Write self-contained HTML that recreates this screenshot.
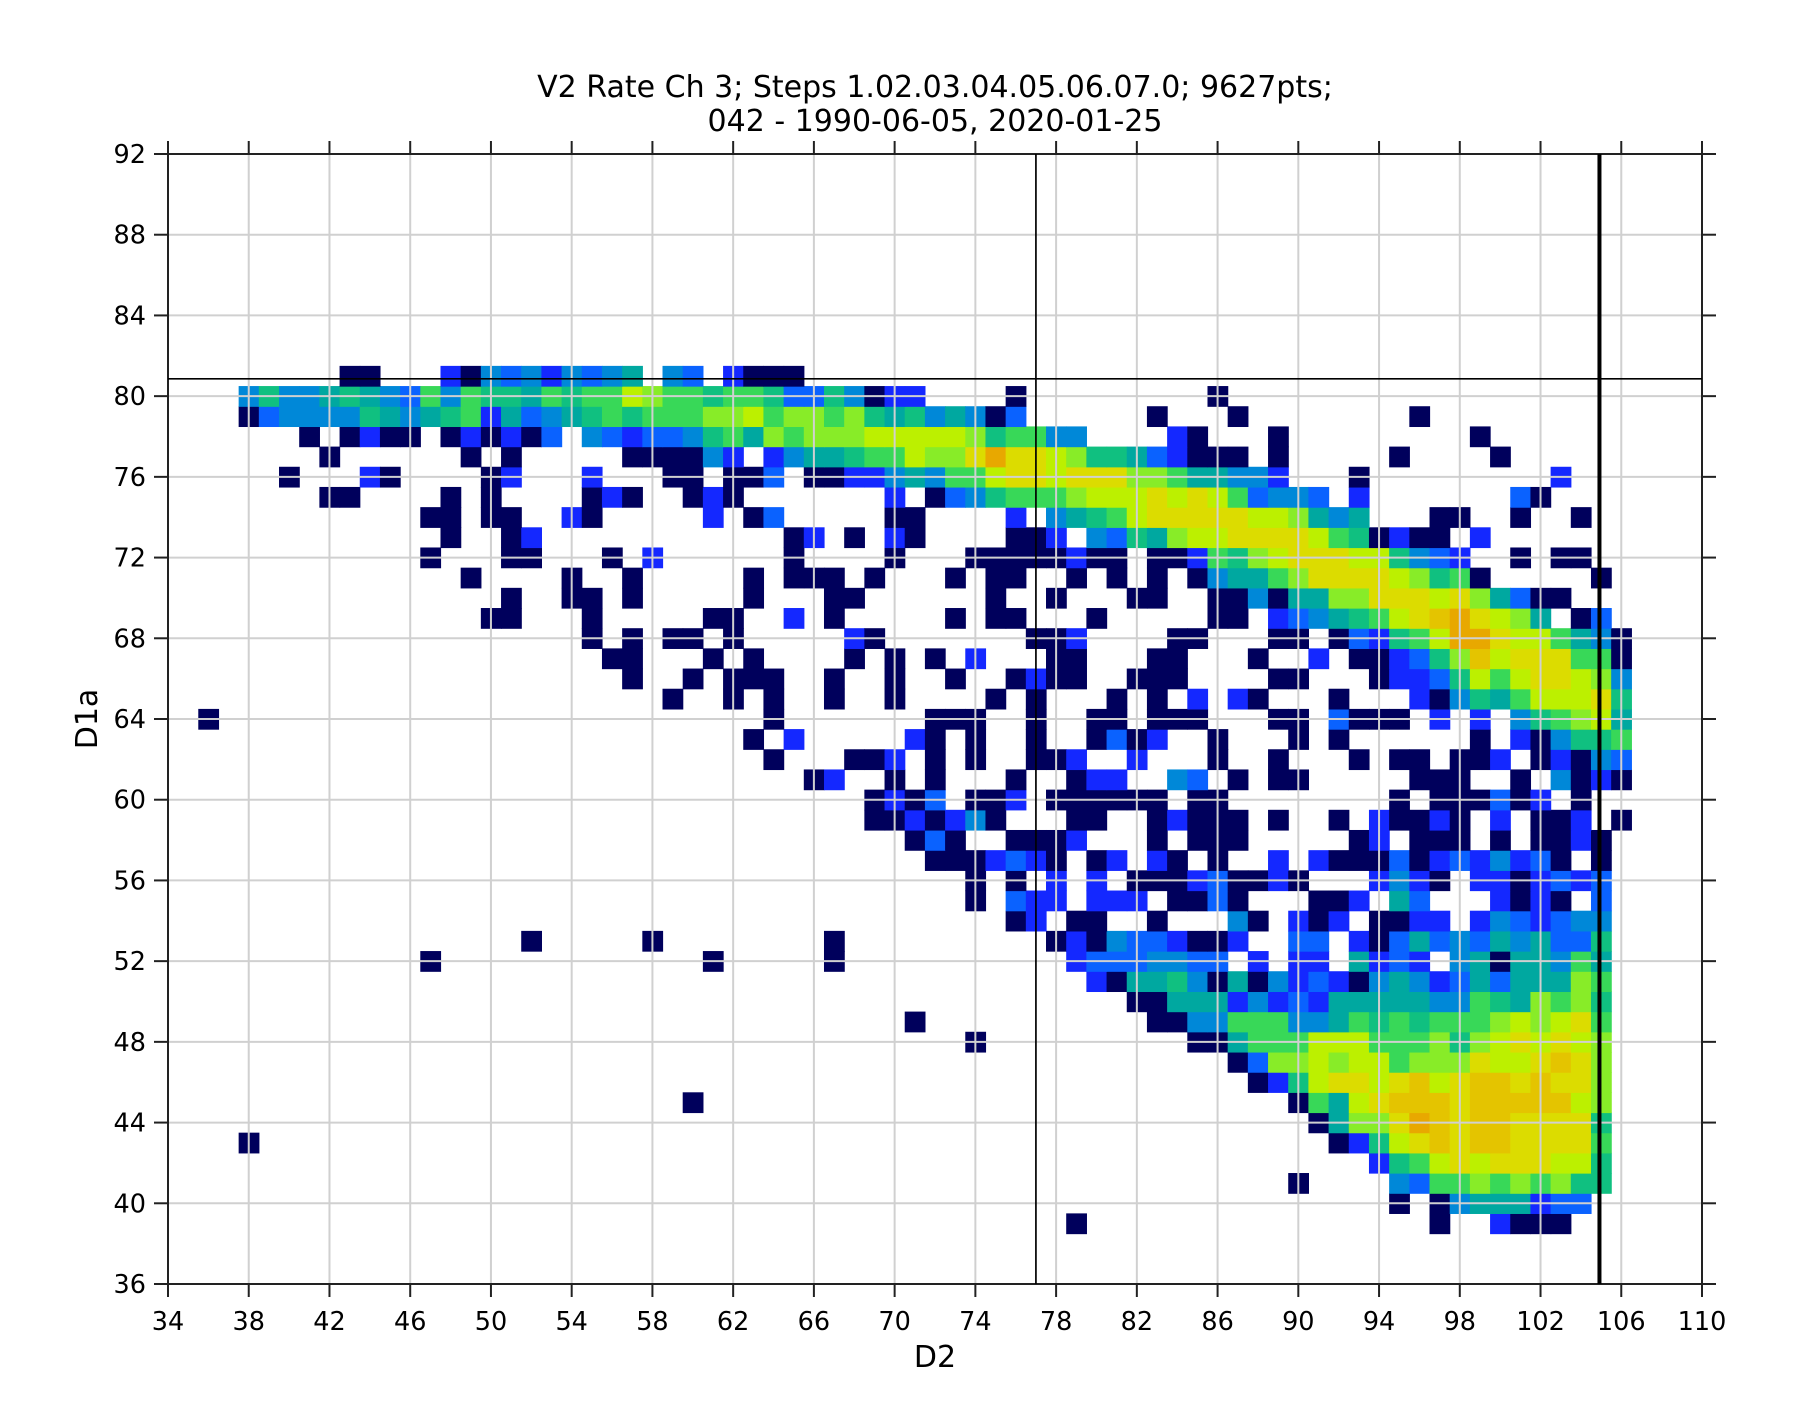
<!DOCTYPE html>
<html><head><meta charset="utf-8"><style>
html,body{margin:0;padding:0;background:#fff;}
svg{display:block;font-family:"DejaVu Sans","Liberation Sans",sans-serif;}
</style></head><body>
<svg id="s" width="1820" height="1424" viewBox="0 0 1820 1424" xmlns="http://www.w3.org/2000/svg">
<rect width="1820" height="1424" fill="#fff"/>
<g id="cells"></g>
<g id="grid" stroke="#d0d0d0" stroke-width="2"></g>
<g id="frame"></g>
<text x="935" y="97" font-size="30" text-anchor="middle">V2 Rate Ch 3; Steps 1.02.03.04.05.06.07.0; 9627pts;</text>
<text x="935" y="131" font-size="30" text-anchor="middle">042 - 1990-06-05, 2020-01-25</text>
<text x="935" y="1367" font-size="30" text-anchor="middle">D2</text>
<text x="0" y="0" font-size="30" text-anchor="middle" transform="translate(97,719) rotate(-90)">D1a</text>
</svg>
<script>
var C={n:"#00005c",b:"#1428ff",l:"#0a62ff",c:"#0088d8",t:"#00a8a0",G:"#10c080",g:"#38d858",h:"#88ec28",y:"#bcf000",Y:"#dcdc00",Q:"#e4c400",o:"#e8a800"};
var R={
81:"43n 44n 48b 49n 50c 51l 52c 53b 54c 55l 56c 57t 59c 60l 62b 63n 64n 65n",
80:"38c 39G 40c 41c 42t 43G 44t 45c 46l 47g 48c 49g 50G 51G 52t 53g 54G 55g 56g 57y 58h 59g 60g 61G 62g 63g 64G 65l 66l 67G 68c 69n 70b 71b 76n 86n",
79:"38n 39l 40c 41c 42c 43c 44G 45t 46c 47t 48G 49g 50b 51t 52l 53c 54t 55G 56g 57G 58g 59g 60g 61h 62h 63y 64g 65h 66h 67g 68h 69G 70t 71G 72c 73t 74c 75n 76l 83n 87n 96n",
78:"41n 43n 44b 45n 46n 48n 49b 50n 51b 52n 53l 55c 56l 57b 58l 59l 60c 61G 62g 63t 64h 65g 66h 67h 68h 69y 70y 71y 72y 73y 74h 75G 76g 77g 78c 79c 84b 85n 89n 99n",
77:"42n 49n 51n 57n 58n 59n 60n 61c 62b 64b 65c 66t 67t 68G 69g 70g 71y 72h 73h 74Y 75o 76Y 77Y 78y 79h 80G 81G 82t 83l 84b 85n 86n 87n 89n 95n 100n",
76:"40n 44b 45n 50n 51b 55b 59n 60n 62n 63n 64l 66n 67n 68b 69b 70c 71t 72c 73g 74g 75y 76Y 77Y 78y 79Y 80Y 81Y 82h 83h 84g 85t 86t 87c 88c 89b 93n 103b",
75:"42n 43n 48n 50n 55n 56b 57n 60n 61b 62n 70b 72n 73l 74c 75G 76g 77g 78g 79h 80y 81y 82y 83Y 84y 85Y 86y 87g 88l 89c 90c 91l 93b 101l 102n",
74:"47n 48n 50n 51n 54b 55n 61b 63n 64l 70n 71n 76b 78c 79t 80G 81g 82y 83Y 84Y 85Y 86Y 87Y 88y 89y 90h 91t 92c 93t 97n 98n 101n 104n",
73:"48n 51n 52b 65n 66b 68n 70b 71n 76n 77n 78b 80c 81l 82G 83t 84h 85y 86y 87Y 88Y 89Y 90Y 91y 92g 93G 94n 95b 96n 97n 99b",
72:"47n 51n 52n 56n 58b 65n 70n 74n 75n 76n 77n 78n 79b 80n 81n 83n 84n 85b 86g 87G 88h 89y 90Y 91Y 92Y 93y 94y 95G 96c 97l 98b 101n 103n 104n",
71:"49n 54n 57n 63n 65n 66n 67n 69n 73n 75n 76n 79n 81n 83n 85n 86c 87t 88t 89g 90h 91Y 92Y 93Y 94Y 95y 96h 97G 98g 99n 105n",
70:"51n 54n 55n 57n 63n 67n 68n 75n 78n 82n 83n 86n 87n 88c 89n 90t 91t 92h 93h 94Y 95Y 96Y 97y 98Y 99h 100t 101l 102n 103n",
69:"50n 51n 55n 61n 62n 65b 67n 73n 75n 76n 80n 86n 87n 89b 90l 91c 92t 93G 94g 95y 96Y 97Q 98o 99Y 100y 101h 102t 104n 105l",
68:"55n 57n 59n 60n 62n 68b 69n 77n 78n 79b 84n 85n 89n 90n 92n 93l 94b 95G 96g 97y 98o 99o 100Y 101y 102y 103g 104t 105c 106n",
67:"56n 57n 61n 63n 68n 70n 72n 74b 78n 79n 83n 84n 88n 91b 93n 94n 95b 96l 97G 98h 99Q 100y 101Y 102Y 103Y 104g 105g 106n",
66:"57n 60n 62n 63n 64n 67n 70n 73n 76n 77b 78n 79n 82n 83n 84n 89n 90n 94n 95b 96b 97l 98G 99y 100g 101y 102Y 103Y 104y 105h 106c",
65:"59n 62n 64n 67n 70n 75n 77n 81n 83n 85b 87b 88n 92n 96b 97n 98c 99G 100t 101g 102y 103y 104y 105Y 106G",
64:"36n 64n 72n 73n 74n 77n 80n 81n 83n 84n 85n 89n 90n 92l 93n 94n 95n 97b 99b 101c 102G 103g 104h 105y 106t",
63:"63n 65b 71b 72n 74n 77n 80n 81l 82n 83b 86n 90n 92n 99n 101b 102n 103c 104G 105G 106g",
62:"64n 68n 69n 70b 72n 74n 77n 78n 79b 82b 86n 89n 93n 95n 96n 98n 99n 100b 102n 103b 104n 105c 106l",
61:"66n 67b 70n 72n 76n 79n 80b 81b 84c 85l 87n 89n 90n 96n 97n 98n 101n 103c 104n 105b 106n",
60:"69n 70b 71n 72l 74n 75n 76b 78n 79n 80n 81n 82n 83n 85n 86n 95n 97n 98n 99n 100l 101n 102b 104n",
59:"69n 70n 71b 72n 73b 74c 75n 79n 80n 83n 84b 85n 86n 87n 89n 92n 94b 95n 96n 97b 98n 100b 102n 103n 104b 106n",
58:"71n 72l 73n 76n 77n 78n 79b 83n 85n 86n 87n 93n 94b 96n 97n 98n 100n 102n 103n 104b 105n",
57:"72n 73n 74n 75b 76l 77b 78n 80n 81b 83b 84n 86n 89b 91b 92n 93n 94n 95l 96n 97b 98l 99b 100c 101b 102l 103n 105n",
56:"74n 76n 78b 80b 82n 83n 84n 85b 86l 87n 88n 89b 90n 94b 95c 96b 97n 99b 100b 101n 102b 103l 104b 105l",
55:"74n 76l 77b 78b 80b 81b 82b 84n 85n 86l 87n 91n 92n 93b 95t 96l 100b 101n 102b 103n 105l",
54:"76n 77b 79n 80n 83n 87c 88n 90b 91n 92b 94n 95n 96b 97b 99b 100c 101l 102b 103l 104c 105c",
53:"52n 58n 67n 78n 79b 80n 81c 82l 83l 84b 85n 86n 87b 90l 91l 93b 94n 95l 96t 97l 98c 99l 100t 101c 102t 103l 104l 105G",
52:"47n 61n 67n 79b 80l 81l 82l 83c 84c 85l 86l 88b 90b 91b 93t 94b 95l 96b 98c 99t 100n 101t 102t 103c 104g 105t",
51:"80b 81n 82t 83t 84G 85c 86n 87t 88n 89c 90b 91l 92b 93n 94c 95t 96c 97b 98l 99t 100l 101t 102t 103t 104h 105g",
50:"82n 83n 84t 85t 86t 87b 88c 89b 90l 91b 92t 93t 94t 95t 96t 97c 98c 99g 100G 101t 102h 103g 104h 105G",
49:"71n 83n 84n 85c 86c 87g 88g 89g 90c 91c 92t 93g 94G 95g 96G 97g 98g 99g 100h 101y 102h 103y 104Y 105g",
48:"74n 85n 86n 87t 88g 89g 90g 91y 92y 93y 94g 95g 96g 97h 98G 99h 100y 101Y 102y 103Y 104y 105h",
47:"87n 88l 89h 90h 91y 92h 93y 94y 95g 96h 97h 98h 99Y 100y 101y 102Y 103Q 104Y 105h",
46:"88n 89b 90G 91y 92Y 93Y 94y 95Y 96Q 97y 98Y 99Q 100Q 101Y 102Q 103Y 104Y 105h",
45:"60n 90n 91g 92t 93y 94Y 95Q 96Q 97Q 98Y 99Q 100Q 101Q 102Q 103Q 104y 105h",
44:"91n 92t 93h 94h 95Y 96o 97Q 98Y 99Q 100Q 101Y 102Y 103Y 104Y 105G",
43:"38n 92n 93b 94G 95y 96Y 97Q 98Y 99Q 100Q 101Y 102Y 103Y 104Y 105g",
42:"94b 95G 96g 97y 98Y 99y 100Y 101Y 102Y 103y 104y 105G",
41:"90n 95c 96l 97g 98g 99h 100g 101h 102g 103h 104G 105G",
40:"95n 97n 98c 99t 100t 101t 102b 103l 104l",
39:"79n 97n 100b 101n 102n 103n"};
var NS="http://www.w3.org/2000/svg";
var X0=168,X1=1702,Y0=1284,Y1=154;
function X(d){return X0+(d-34)*(X1-X0)/76;}
function Y(d){return Y0-(d-36)*(Y0-Y1)/56;}
function el(p,t,a){var e=document.createElementNS(NS,t);for(var k in a)e.setAttribute(k,a[k]);p.appendChild(e);return e;}
var cg=document.getElementById("cells");
for(var r in R){var it=R[r].split(" ");for(var i=0;i<it.length;i++){var s=it[i];var col=parseInt(s);var code=s.replace(/[0-9]/g,"");
var x=X(col-0.5),w=X(col+0.5)-x,y=Y(+r+0.5),h=Y(+r-0.5)-y;
el(cg,"rect",{x:x.toFixed(2),y:y.toFixed(2),width:(w+0.6).toFixed(2),height:(h+0.6).toFixed(2),fill:C[code]});}}
var gg=document.getElementById("grid"),fr=document.getElementById("frame");
for(var d=34;d<=110;d+=4){el(gg,"line",{x1:X(d),x2:X(d),y1:Y1,y2:Y0});
 el(fr,"line",{x1:X(d),x2:X(d),y1:Y0,y2:Y0+13,stroke:"#222","stroke-width":2});
 el(fr,"line",{x1:X(d),x2:X(d),y1:Y1,y2:Y1-13,stroke:"#222","stroke-width":2});
 var t=el(fr,"text",{x:X(d),y:Y0+46,"font-size":25.5,"text-anchor":"middle"});t.textContent=d;}
for(var d=36;d<=92;d+=4){el(gg,"line",{x1:X0,x2:X1,y1:Y(d),y2:Y(d)});
 el(fr,"line",{x1:X0-14,x2:X0,y1:Y(d),y2:Y(d),stroke:"#222","stroke-width":2});
 el(fr,"line",{x1:X1,x2:X1+14,y1:Y(d),y2:Y(d),stroke:"#222","stroke-width":2});
 var t=el(fr,"text",{x:X0-22,y:Y(d)+9,"font-size":25.5,"text-anchor":"end"});t.textContent=d;}
el(fr,"rect",{x:X0,y:Y1,width:X1-X0,height:Y0-Y1,fill:"none",stroke:"#222","stroke-width":2});
el(fr,"line",{x1:X0,x2:X1,y1:Y(80.86),y2:Y(80.86),stroke:"#000","stroke-width":1.7});
el(fr,"line",{x1:X(77),x2:X(77),y1:Y1,y2:Y0,stroke:"#000","stroke-width":1.7});
el(fr,"line",{x1:X(104.92),x2:X(104.92),y1:Y1,y2:Y0,stroke:"#000","stroke-width":4});
</script>
</body></html>
